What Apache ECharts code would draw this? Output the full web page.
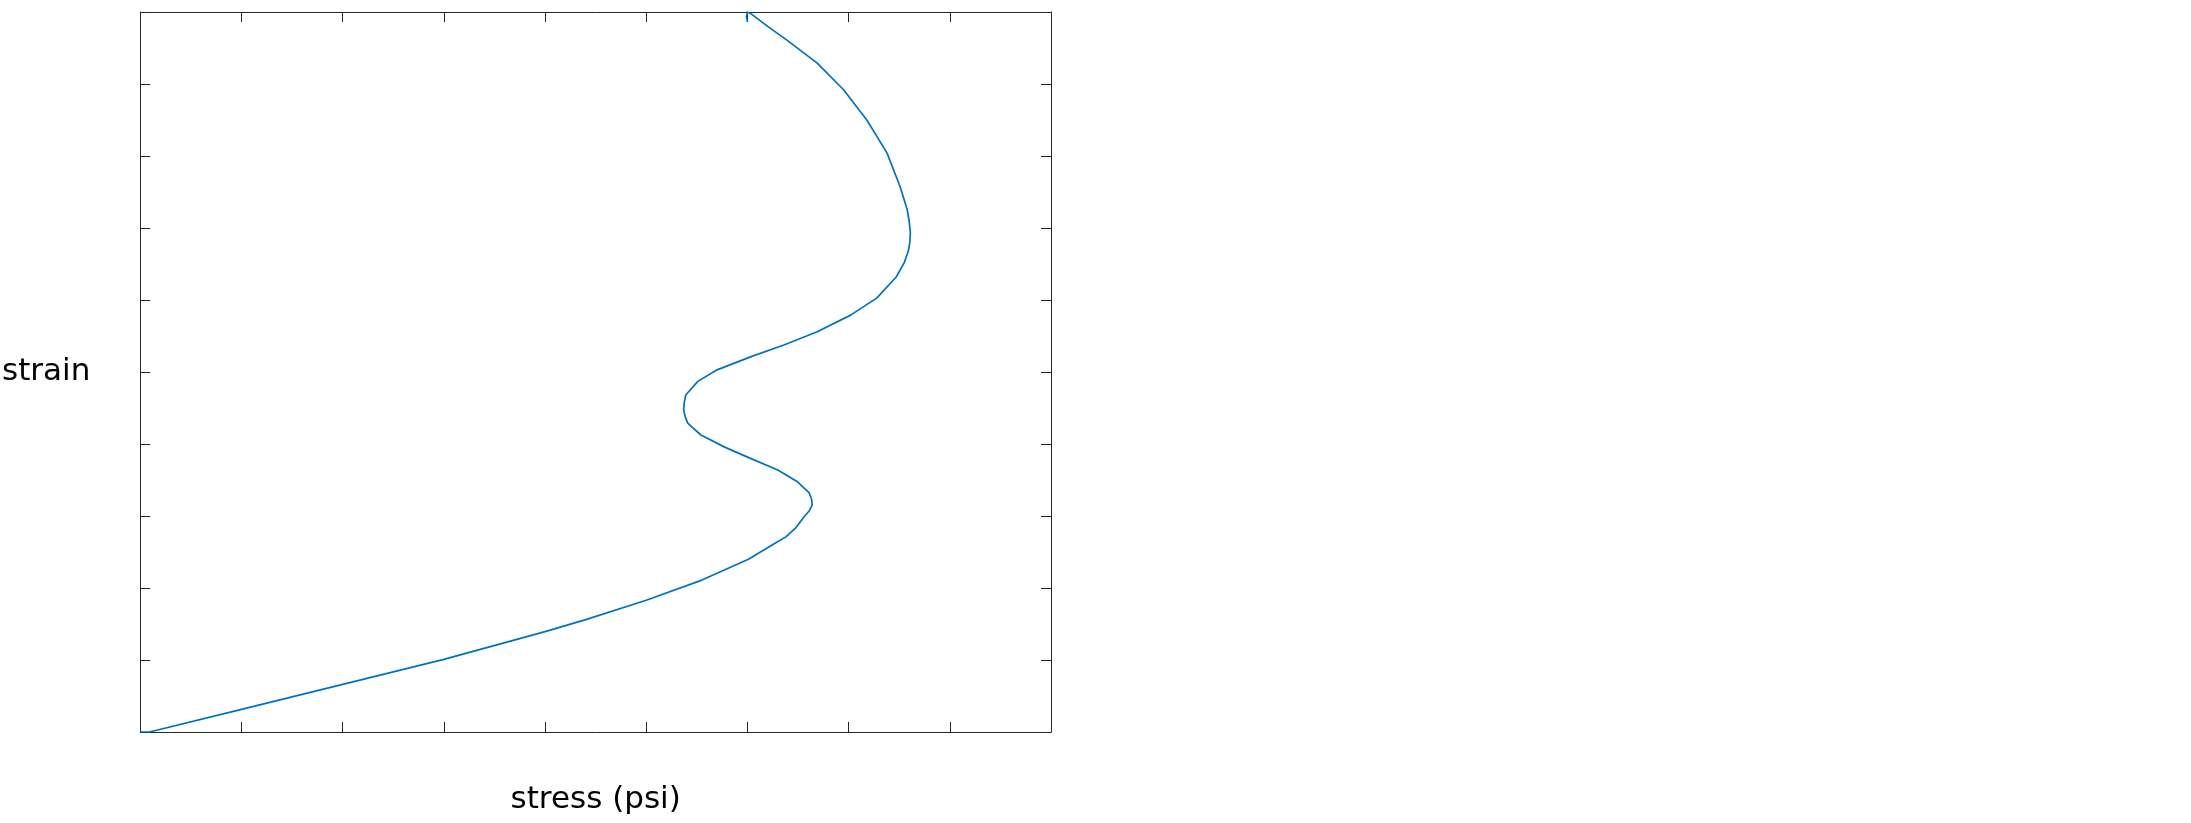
<!DOCTYPE html>
<html>
<head>
<meta charset="utf-8">
<script src="https://cdn.jsdelivr.net/npm/echarts@6/dist/echarts.min.js"></script>
<style>
  html, body { margin: 0; padding: 0; background: #fff; }
  #chart { width: 2191px; height: 823px; }
</style>
</head>
<body>
<div id="chart"></div>
<script>
// values (stress on x, strain on y)
var stress = [0, 0.09, 1.0, 2.0, 3.0, 4.0, 4.41, 5.0, 5.55, 6.01, 6.26, 6.38, 6.48, 6.56, 6.61, 6.64, 6.635, 6.61, 6.49,
  6.30, 6.03, 5.77, 5.54, 5.41, 5.385, 5.37, 5.375, 5.39, 5.51, 5.70, 6.03, 6.36, 6.69, 7.02, 7.28, 7.47, 7.55, 7.59,
  7.605, 7.61, 7.6, 7.58, 7.51, 7.38, 7.18, 6.95, 6.69, 6.39, 6.20, 6.03, 6.0, 5.99, 6.0];
var strain = [0, 0, 0.315, 0.662, 1.009, 1.394, 1.565, 1.83, 2.11, 2.40, 2.61, 2.71, 2.84, 2.99, 3.07, 3.15, 3.23, 3.32, 3.48,
  3.64, 3.80, 3.96, 4.125, 4.29, 4.38, 4.47, 4.57, 4.68, 4.87, 5.03, 5.21, 5.375, 5.56, 5.79, 6.03, 6.32, 6.52, 6.68,
  6.8, 6.93, 7.08, 7.25, 7.57, 8.04, 8.5, 8.92, 9.29, 9.61, 9.80, 9.98, 10.0, 9.935, 9.865];

var xMin = 0, xMax = 9, yMin = 0, yMax = 10;

var points = stress.map(function (s, i) { return [s, strain[i]]; });

var axisColor = '#262626';

function boxAxis(pos, min, max, extra) {
  var a = {
    type: 'value',
    position: pos,
    min: min,
    max: max,
    interval: 1,
    axisLine: { show: true, onZero: false, lineStyle: { color: axisColor, width: 1 } },
    axisTick: { show: true, inside: true, length: 10, lineStyle: { color: axisColor, width: 1 } },
    axisLabel: { show: false },
    splitLine: { show: false }
  };
  for (var k in extra) a[k] = extra[k];
  return a;
}

var chart = echarts.init(document.getElementById('chart'));
chart.setOption({
  animation: false,
  backgroundColor: '#fff',
  grid: { left: 138, right: 1140, top: 12, bottom: 91 },
  xAxis: [
    boxAxis('bottom', xMin, xMax, {
      name: 'stress (psi)',
      nameLocation: 'middle',
      nameGap: 52,
      nameTextStyle: { fontFamily: 'DejaVu Sans', fontSize: 31, color: '#000' }
    }),
    boxAxis('top', xMin, xMax, {})
  ],
  yAxis: [
    boxAxis('left', yMin, yMax, {
      name: 'strain',
      nameLocation: 'middle',
      nameRotate: 0,
      nameGap: 50,
      nameTextStyle: { fontFamily: 'DejaVu Sans', fontSize: 31, color: '#000' }
    }),
    boxAxis('right', yMin, yMax, {})
  ],
  series: [
    {
      type: 'line',
      xAxisIndex: 0,
      yAxisIndex: 0,
      data: points,
      smooth: false,
      symbol: 'none',
      clip: true,
      lineStyle: { color: '#0072BD', width: 1.7, join: 'round' }
    }
  ]
});
</script>
</body>
</html>
